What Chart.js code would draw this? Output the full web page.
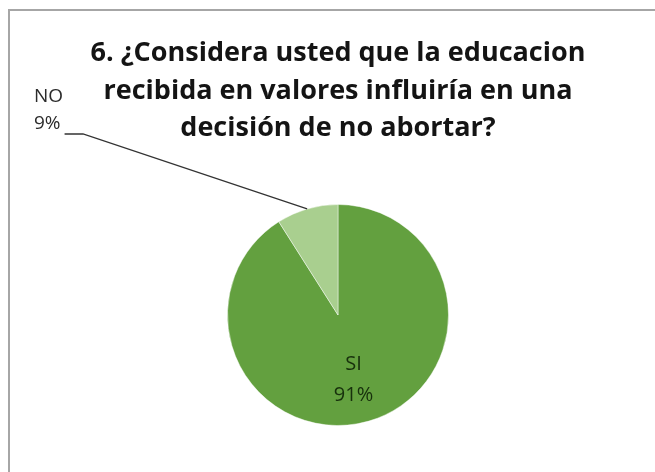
<!DOCTYPE html>
<html>
<head>
<meta charset="utf-8">
<script src="https://cdn.jsdelivr.net/npm/chart.js@4.4.1/dist/chart.umd.min.js"></script>
<style>
	html, body { margin: 0; padding: 0; background: #fff; }
	#wrap { position: relative; width: 655px; height: 472px; }
	#frame { position: absolute; left: 8px; top: 9px; right: 0; bottom: 0; border-left: 2px solid #a6a6a6; border-top: 2px solid #a6a6a6; }
</style>
</head>
<body>
<div id="wrap">
	<div id="frame"></div>
	<canvas id="pie-chartcanvas" width="655" height="472" style="position:absolute;left:0;top:0;"></canvas>
</div>
<script>
var categories = ["SI", "NO"];
var values = [91, 9];
var percentLabels = ["91%", "9%"];
var titleLines = [
	"6. ¿Considera usted que la educacion",
	"recibida en valores influiría en una",
	"decisión de no abortar?"
];
var colors = ["#63a03f", "#a9cf8f"];

// draws the SI label inside and the NO label outside with its leader line
var sliceLabels = {
	id : "sliceLabels",
	afterDatasetsDraw : function(chart) {
		var ctx = chart.ctx;
		var arcs = chart.getDatasetMeta(0).data;
		ctx.save();

		// SI, inside the slice
		var a = arcs[0];
		var mid = (a.startAngle + a.endAngle) / 2;
		var r = a.outerRadius * 0.6;
		var x = a.x + Math.cos(mid) * r;
		var y = a.y + Math.sin(mid) * r;
		ctx.font = "20px 'Open Sans'";
		ctx.fillStyle = "#17300c";
		ctx.textAlign = "center";
		ctx.textBaseline = "middle";
		ctx.fillText(categories[0], x - 3, y - 14);
		ctx.fillText(percentLabels[0], x - 3, y + 17);

		// NO, outside on the left
		var b = arcs[1];
		var midB = (b.startAngle + b.endAngle) / 2;
		var ex = b.x + Math.cos(midB) * b.outerRadius;
		var ey = b.y + Math.sin(midB) * b.outerRadius;
		ctx.font = "19px 'Open Sans'";
		ctx.fillStyle = "#2b2b2b";
		ctx.textAlign = "left";
		ctx.textBaseline = "alphabetic";
		ctx.fillText(categories[1], 34, 102);
		ctx.fillText(percentLabels[1], 34, 129);
		var w = ctx.measureText(percentLabels[1]).width;

		ctx.strokeStyle = "#333333";
		ctx.lineWidth = 1.3;
		ctx.beginPath();
		ctx.moveTo(34 + w + 4, 134);
		ctx.lineTo(83, 134);
		ctx.lineTo(ex, ey);
		ctx.stroke();
		ctx.restore();
	}
};

var ctx = document.getElementById("pie-chartcanvas");

var data1 = {
	labels : categories,
	datasets : [
		{
			data : values,
			backgroundColor : colors,
			borderColor : "rgba(255,255,255,0.45)",
			borderWidth : 1
		}
	]
};

var options = {
	responsive : false,
	animation : false,
	layout : {
		padding : { top : 10, left : 21, right : 0, bottom : 46 }
	},
	plugins : {
		legend : { display : false },
		tooltip : { enabled : false },
		title : {
			display : true,
			text : titleLines,
			color : "#141414",
			font : { family : "'Open Sans'", size : 27, weight : "bold", lineHeight : 1.389 },
			padding : { top : 25, bottom : 56.5 }
		}
	}
};

var chart = new Chart(ctx, {
	type : "pie",
	data : data1,
	options : options,
	plugins : [sliceLabels]
});
</script>
</body>
</html>
